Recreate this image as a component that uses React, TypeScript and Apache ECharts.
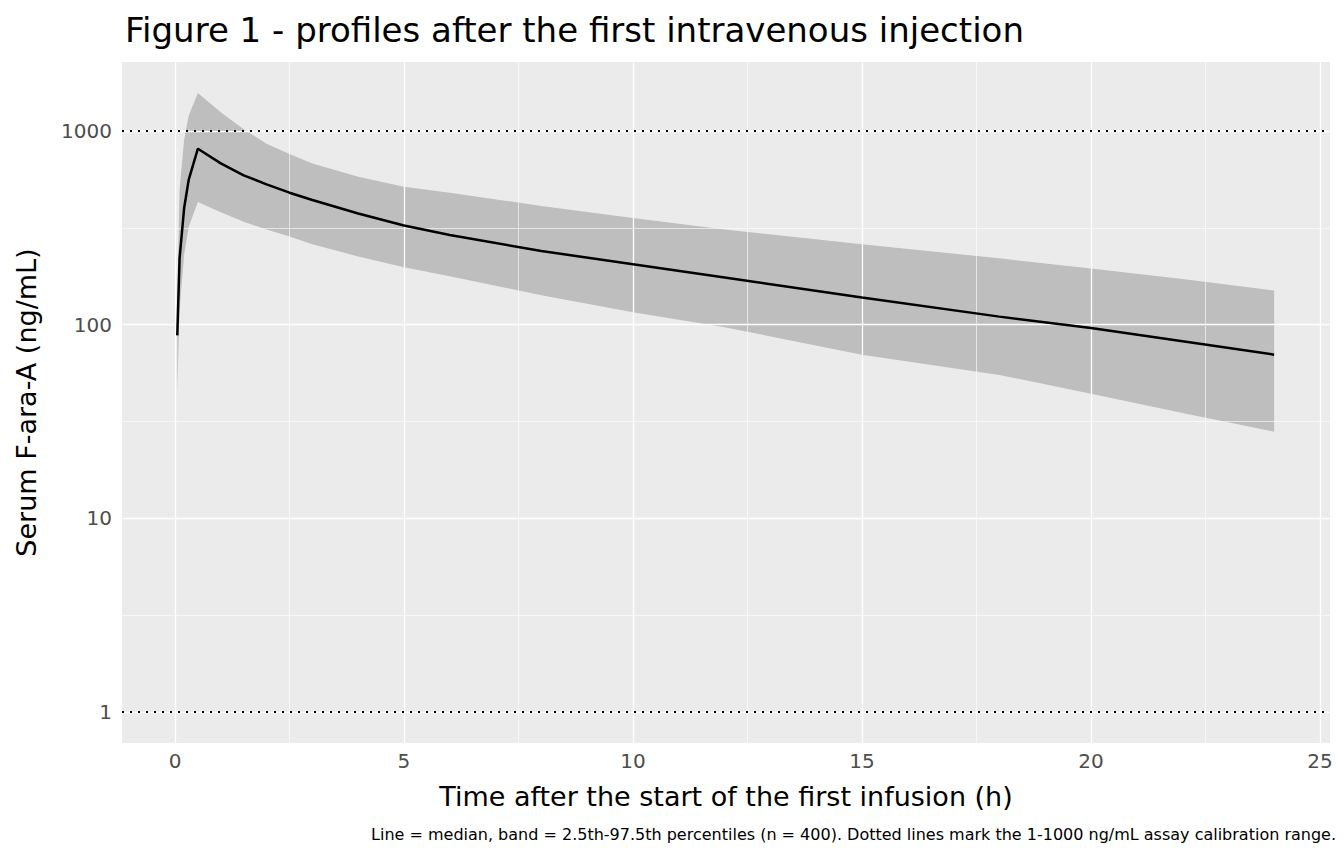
import * as echarts from 'echarts';
import { useEffect, useRef } from 'react';

const times = [0.05, 0.1, 0.2, 0.3, 0.5, 1, 1.5, 2, 2.5, 3, 4, 5, 6, 8, 10, 12, 15, 18, 20, 22, 24];
const median = [88, 220, 400, 560, 810, 680, 590, 530, 480, 440, 375, 325, 290, 240, 205, 175, 138, 110, 96, 82, 70];
const upper = [140, 500, 900, 1200, 1570, 1250, 1020, 860, 760, 680, 580, 515, 480, 410, 355, 310, 260, 220, 195, 172, 150];
const lower = [45, 120, 230, 320, 430, 380, 340, 310, 285, 260, 225, 198, 178, 142, 116, 97, 70, 55, 44, 35, 28];
const xTicks = [0, 5, 10, 15, 20, 25];
const xMinor = [2.5, 7.5, 12.5, 17.5, 22.5];
const yTicks = [1, 10, 100, 1000];
const yMinor = [Math.sqrt(10), Math.sqrt(1000), Math.sqrt(100000)];
const limits = [1, 1000];

const lg = Math.log10;
const FONT = 'DejaVu Sans';

export default function App() {
  const ref = useRef<HTMLDivElement>(null);

  useEffect(() => {
    const chart = echarts.init(ref.current!, null, { renderer: 'svg' });
    const gridLine = (w: number) => ({ lineStyle: { color: '#ffffff', width: w, type: 'solid' as const } });
    const bandData = times.map((t, i) => [t, lg(lower[i]), lg(upper[i])]);
    chart.setOption({
      animation: false,
      backgroundColor: '#ffffff',
      title: {
        text: 'Figure 1 - profiles after the first intravenous injection',
        left: 120,
        top: 8,
        textStyle: { fontFamily: FONT, fontSize: 34, fontWeight: 'normal', color: '#000' },
      },
      grid: { left: 122, right: 14, top: 62, bottom: 121, show: true, backgroundColor: '#ebebeb', borderWidth: 0 },
      xAxis: {
        type: 'value',
        min: -1.157,
        max: 25.22,
        name: 'Time after the start of the first infusion (h)',
        nameLocation: 'middle',
        nameGap: 40,
        nameTextStyle: { fontFamily: FONT, fontSize: 27, color: '#000' },
        axisLine: { show: false },
        splitLine: { show: false },
        axisTick: { show: true, customValues: xTicks, length: 4, lineStyle: { color: '#333' } },
        axisLabel: { customValues: xTicks, fontFamily: FONT, fontSize: 20, color: '#4d4d4d', margin: 8 },
      },
      yAxis: {
        type: 'value',
        min: -0.16,
        max: 3.356,
        name: 'Serum F-ara-A (ng/mL)',
        nameLocation: 'middle',
        nameGap: 82,
        nameTextStyle: { fontFamily: FONT, fontSize: 27, color: '#000' },
        axisLine: { show: false },
        splitLine: { show: false },
        axisTick: { show: true, customValues: yTicks.map(lg), length: 4, lineStyle: { color: '#333' } },
        axisLabel: {
          customValues: yTicks.map(lg),
          formatter: (v: number) => String(Math.round(Math.pow(10, v))),
          fontFamily: FONT,
          fontSize: 20,
          color: '#4d4d4d',
          margin: 10,
        },
      },
      graphic: [
        {
          type: 'text',
          right: 8,
          top: 826,
          style: {
            text: 'Line = median, band = 2.5th-97.5th percentiles (n = 400). Dotted lines mark the 1-1000 ng/mL assay calibration range.',
            font: `16px "${FONT}"`,
            fill: '#000',
          },
        },
      ],
      series: [
        {
          type: 'line',
          data: [],
          silent: true,
          markLine: {
            silent: true,
            symbol: 'none',
            label: { show: false },
            data: [
              ...xMinor.map((x) => ({ xAxis: x, ...gridLine(0.6) })),
              ...yMinor.map((y) => ({ yAxis: lg(y), ...gridLine(0.6) })),
              ...xTicks.map((x) => ({ xAxis: x, ...gridLine(1.3) })),
              ...yTicks.map((y) => ({ yAxis: lg(y), ...gridLine(1.3) })),
            ],
          },
        },
        {
          type: 'custom',
          silent: true,
          data: [0],
          renderItem: (_p: unknown, api: any) => {
            const top = bandData.map((d) => api.coord([d[0], d[2]]));
            const bottom = bandData.map((d) => api.coord([d[0], d[1]])).reverse();
            return {
              type: 'polygon',
              shape: { points: [...top, ...bottom] },
              style: { fill: '#bebebe' },
            };
          },
          z: 3,
        },
        {
          type: 'line',
          data: times.map((t, i) => [t, lg(median[i])]),
          symbol: 'none',
          lineStyle: { color: '#000', width: 2.5 },
          z: 5,
          markLine: {
            silent: true,
            symbol: 'none',
            label: { show: false },
            lineStyle: { color: '#000', type: [2, 6], width: 2 },
            data: limits.map((v) => ({ yAxis: lg(v) })),
          },
        },
      ],
    });
    return () => chart.dispose();
  }, []);

  return <div ref={ref} style={{ width: 1344, height: 864, margin: -8 }} />;
}
